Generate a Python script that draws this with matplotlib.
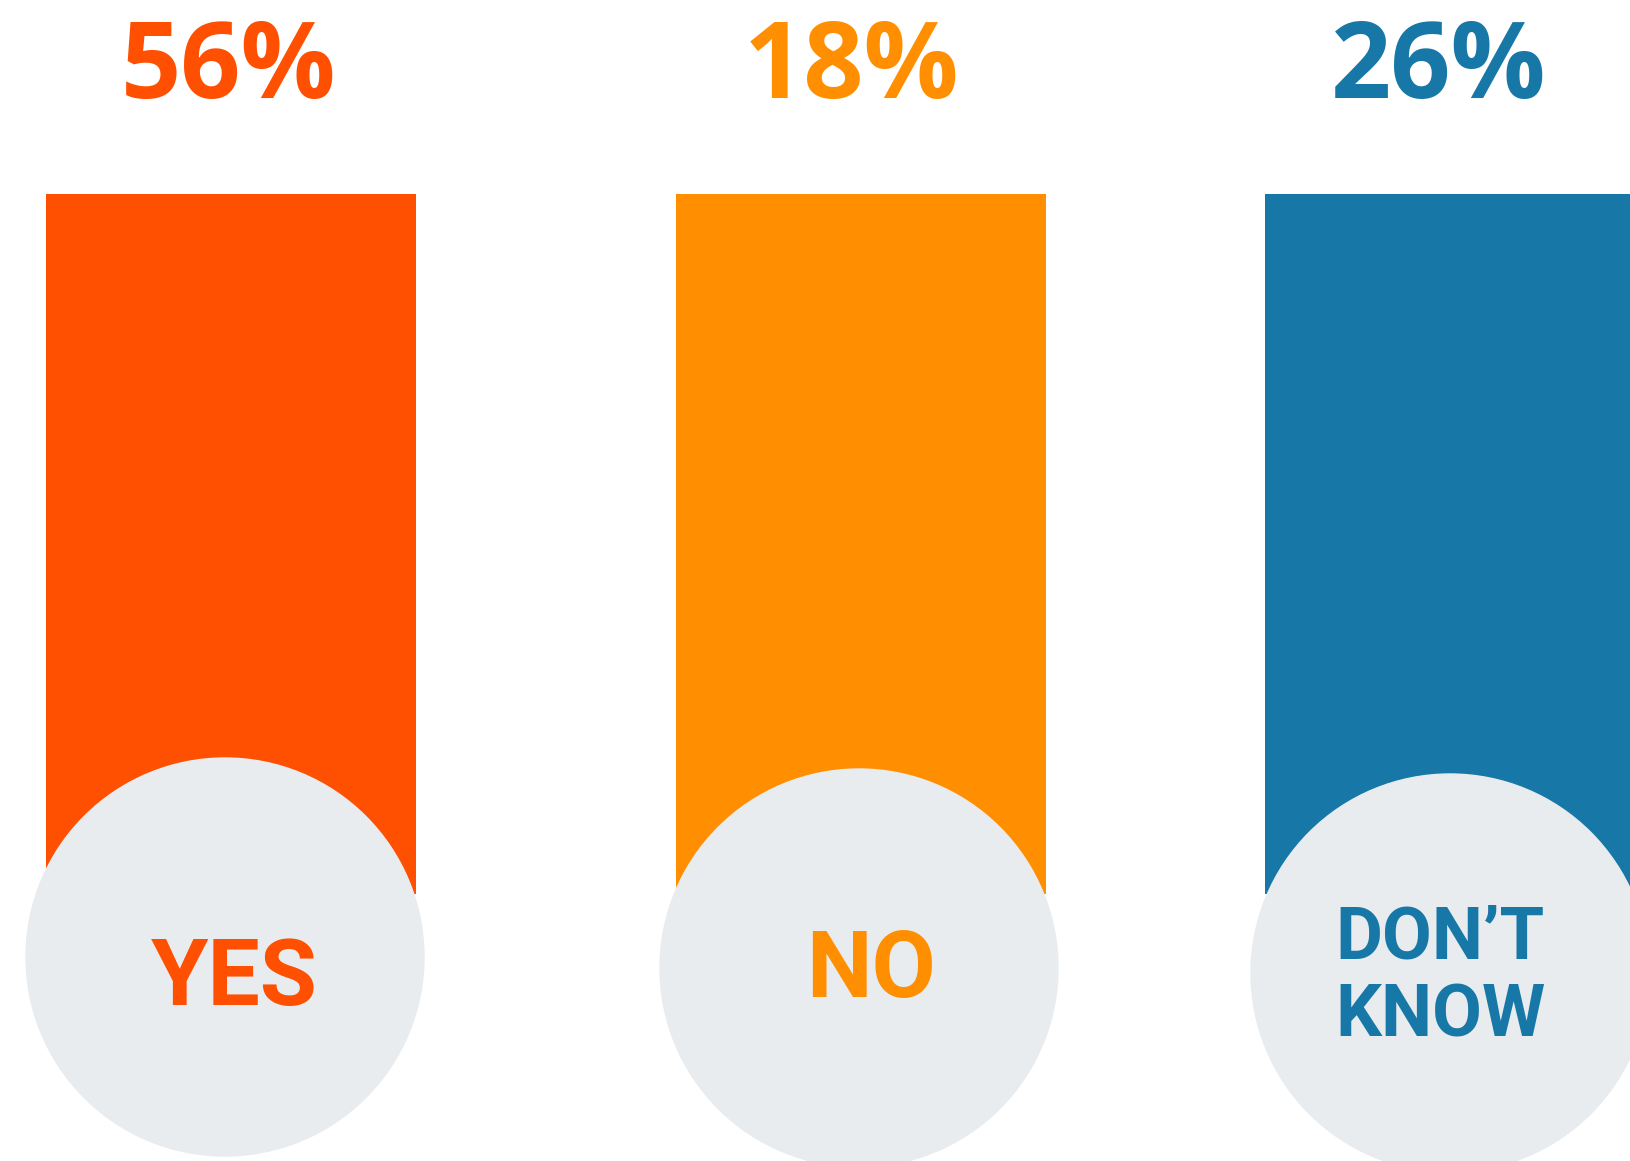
import matplotlib.pyplot as plt
from matplotlib.patches import Circle

# answers and their shares
answers = ['YES', 'NO', "DON\u2019T\nKNOW"]
shares = [56, 18, 26]
colors = ['#FF4F00', '#FF8F00', '#1778A8']

# layout, in pixels of the 1630x1161 canvas
col_x = [231, 861, 1450]
col_top, col_bottom, col_width = 194, 894, 370
bubble_x = [225, 859, 1450]
bubble_y = [957, 968, 973]
bubble_r = 199
bubble_color = '#E8ECEF'
pct_x = [229, 852, 1439]
name_x = [234, 871, 1440]
name_y = [979, 971, 978]

plt.rcParams['font.family'] = ['Roboto', 'DejaVu Sans']

fig = plt.figure(figsize=(16.3, 11.61), dpi=100)
ax = fig.add_axes([0, 0, 1, 1])
ax.set_xlim(0, 1630)
ax.set_ylim(1161, 0)
ax.axis('off')

ax.bar(col_x, col_bottom - col_top, bottom=col_top, width=col_width,
       color=colors, zorder=1)

for i, (share, answer, c) in enumerate(zip(shares, answers, colors)):
    ax.add_patch(Circle((bubble_x[i], bubble_y[i]), bubble_r,
                        color=bubble_color, zorder=2))
    ax.text(pct_x[i], 98, f'{share}%', color=c, fontsize=76,
            fontweight='bold', family=['Open Sans', 'DejaVu Sans'],
            ha='center', va='baseline', zorder=3)
    size = 52 if '\n' in answer else 67
    ax.text(name_x[i], name_y[i], answer, color=c, fontsize=size,
            fontweight='bold', ha='center', va='center', linespacing=1.16,
            zorder=3)

fig.savefig('out.png', dpi=100)
